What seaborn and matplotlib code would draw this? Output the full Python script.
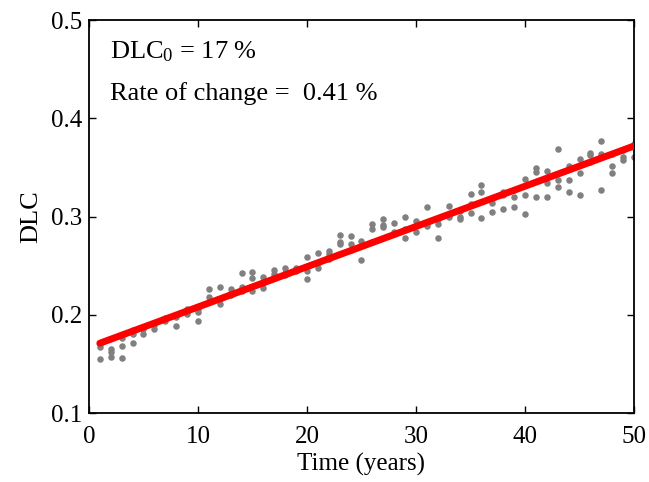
import numpy as np
import pandas as pd
import matplotlib
matplotlib.use("Agg")
import matplotlib.pyplot as plt
import seaborn as sns

# Valores: tres observaciones por año
years = list(range(1, 51))
obs_a = [0.167, 0.165, 0.1685, 0.171, 0.181, 0.1855, 0.197, 0.189, 0.2005, 0.2025,
         0.226, 0.228, 0.226, 0.243, 0.2438, 0.2387, 0.2455, 0.248, 0.248, 0.259,
         0.2635, 0.265, 0.281, 0.2805, 0.2754, 0.293, 0.298, 0.2937, 0.2998, 0.2957,
         0.310, 0.293, 0.311, 0.2998, 0.3229, 0.332, 0.3134, 0.3253, 0.320, 0.338,
         0.350, 0.3466, 0.3687, 0.3517, 0.359, 0.3653, 0.377, 0.3517, 0.361, 0.3735]
obs_b = [0.155, 0.162, 0.156, 0.181, 0.188, 0.192, 0.196, 0.200, 0.204, 0.1936,
         0.218, 0.211, 0.222, 0.228, 0.238, 0.2275, 0.2415, 0.243, 0.245, 0.2445,
         0.248, 0.2615, 0.2737, 0.2717, 0.2557, 0.2873, 0.292, 0.282, 0.2784, 0.2845,
         0.2906, 0.2778, 0.302, 0.2975, 0.3127, 0.3253, 0.305, 0.3083, 0.310, 0.322,
         0.345, 0.3344, 0.337, 0.337, 0.3446, 0.3626, 0.3643, 0.3446, 0.3575, 0.371]
obs_c = [0.170, 0.157, 0.176, 0.185, 0.186, 0.190, 0.194, 0.198, 0.206, 0.206,
         0.213, 0.216, 0.220, 0.224, 0.224, 0.232, 0.238, 0.241, 0.246, 0.237,
         0.253, 0.257, 0.272, 0.266, 0.270, 0.274, 0.2896, 0.284, 0.287, 0.290,
         0.294, 0.298, 0.300, 0.306, 0.304, 0.299, 0.318, 0.322, 0.327, 0.3025,
         0.320, 0.320, 0.3297, 0.3246, 0.322, 0.356, 0.327, 0.364, 0.368, 0.3603]

dlc0 = 0.167
rate = 0.0041

df = pd.DataFrame({"t": years * 3, "dlc": obs_a + obs_b + obs_c})
fit = pd.DataFrame({"t": [years[0], years[-1]]})
fit["dlc"] = dlc0 + rate * fit["t"]

sns.set_style("ticks")
plt.rcParams["font.family"] = ["Liberation Serif", "DejaVu Serif"]
plt.rcParams["mathtext.fontset"] = "custom"
plt.rcParams["mathtext.rm"] = "Liberation Serif"
plt.rcParams["mathtext.it"] = "Liberation Serif"
plt.rcParams["text.color"] = "black"
plt.rcParams["axes.labelcolor"] = "black"

fig = plt.figure(figsize=(6.49, 4.82), dpi=100)
ax = fig.add_axes([0.137, 0.143, 0.840, 0.815])

sns.scatterplot(data=df, x="t", y="dlc", color="#808080", s=22, linewidth=0, ax=ax, zorder=2)
sns.lineplot(data=fit, x="t", y="dlc", color="red", linewidth=5, ax=ax, zorder=3)

ax.set_xlim(0, 50)
ax.set_ylim(0.1, 0.5)
ax.set_xticks([0, 10, 20, 30, 40, 50])
ax.set_yticks([0.1, 0.2, 0.3, 0.4, 0.5])
ax.set_yticklabels(["0.1", "0.2", "0.3", "0.4", "0.5"])
ax.tick_params(direction="in", length=5, width=1, top=True, right=True,
               labelsize=18, colors="black")
ax.tick_params(axis="x", pad=9)
ax.tick_params(axis="y", pad=5)
for sp in ax.spines.values():
    sp.set_linewidth(1.3)
    sp.set_color("black")

ax.set_xlabel("Time (years)", fontsize=18, labelpad=4)
ax.set_ylabel("DLC", fontsize=19, labelpad=6)

ax.text(0.038, 0.903, "DLC$_{\\mathregular{0}}$ = 17 %", transform=ax.transAxes, fontsize=19)
ax.text(0.038, 0.796, "Rate of change =  0.41 %", transform=ax.transAxes, fontsize=19)

fig.savefig("out.png", dpi=100)
